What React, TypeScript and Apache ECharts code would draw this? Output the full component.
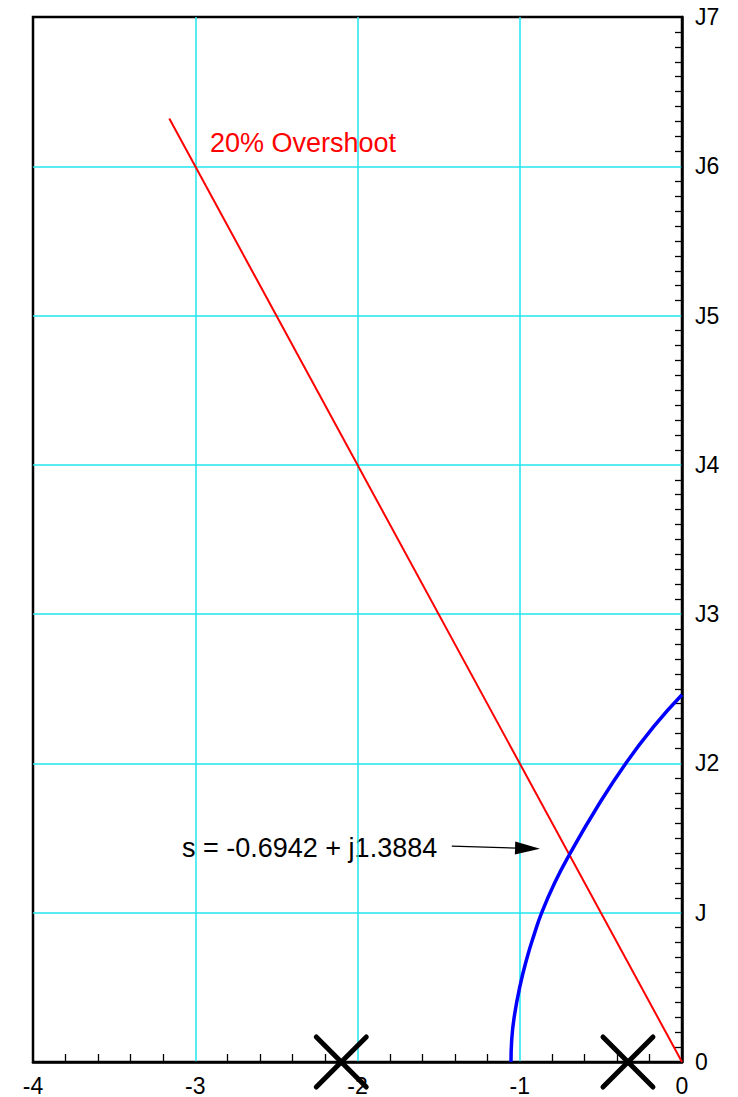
import React, { useEffect, useRef } from "react";
import * as echarts from "echarts";

// ---- data ----
const xTicks = [-4, -3, -2, -1, 0];
const yTickLabels = ["0", "J", "J2", "J3", "J4", "J5", "J6", "J7"];
// 20% overshoot damping line (from origin)
const overshootLine: [number, number][] = [
  [0, 0],
  [-3.16, 6.32],
];
// root locus branch
const locus: [number, number][] = [
  [-1.054, 0],
  [-1.0495, 0.15],
  [-1.0345, 0.3],
  [-1.0005, 0.5],
  [-0.9545, 0.7],
  [-0.9125, 0.85],
  [-0.8645, 1.0],
  [-0.7845, 1.2],
  [-0.6942, 1.3884],
  [-0.527, 1.7],
  [-0.347, 2.0],
  [-0.172, 2.25],
  [0, 2.46],
];
// open-loop poles
const poles: [number, number][] = [
  [-2.1, 0],
  [-0.333, 0],
];
// annotation arrow (start, end)
const arrowStart: [number, number] = [-1.419, 1.446];
const arrowEnd: [number, number] = [-0.952, 1.431];
const overshootText = "20% Overshoot";
const pointText = "s = -0.6942 + j1.3884";

const FONT = "'Liberation Sans', Arial, Helvetica, sans-serif";
const CYAN = "#1ee6ee";

export default function App() {
  const ref = useRef<HTMLDivElement>(null);
  useEffect(() => {
    document.body.style.margin = "0";
    const chart = echarts.init(ref.current!, null, { renderer: "svg" });
    chart.setOption({
      animation: false,
      backgroundColor: "#ffffff",
      grid: {
        left: 33,
        right: 56,
        top: 17,
        bottom: 32,
        show: true,
        borderColor: "#000",
        borderWidth: 2.5,
        backgroundColor: "#fff",
      },
      xAxis: {
        type: "value",
        min: -4,
        max: 0,
        interval: 1,
        position: "bottom",
        axisLine: { show: true, onZero: false, lineStyle: { color: "#000", width: 2.5 } },
        axisTick: { show: false, inside: true },
        minorTick: { show: true, splitNumber: 5, length: 8, lineStyle: { color: "#000", width: 1.3 } },
        splitLine: {
          show: true,
          showMinLine: false,
          showMaxLine: false,
          lineStyle: { color: CYAN, width: 1.5 },
        },
        minorSplitLine: { show: false },
        axisLabel: {
          color: "#000",
          fontSize: 23,
          fontFamily: FONT,
          margin: 12,
          formatter: (v: number) => (xTicks.includes(v) ? String(v) : ""),
        },
      },
      yAxis: {
        type: "value",
        min: 0,
        max: 7,
        interval: 1,
        position: "right",
        axisLine: { show: true, onZero: false, lineStyle: { color: "#000", width: 2.5 } },
        axisTick: { show: false, inside: true },
        minorTick: { show: true, splitNumber: 10, length: 7, lineStyle: { color: "#000", width: 1.3 } },
        splitLine: {
          show: true,
          showMinLine: false,
          showMaxLine: false,
          lineStyle: { color: CYAN, width: 1.5 },
        },
        axisLabel: {
          color: "#000",
          fontSize: 23,
          fontFamily: FONT,
          margin: 13,
          formatter: (v: number) => yTickLabels[Math.round(v)] ?? "",
        },
      },
      series: [
        {
          type: "line",
          data: overshootLine,
          symbol: "none",
          lineStyle: { color: "#ff0000", width: 2 },
          silent: true,
          markLine: {
            silent: true,
            symbol: ["none", "triangle"],
            symbolSize: [13, 25],
            label: { show: false },
            lineStyle: { color: "#000", width: 1.2, type: "solid" },
            data: [[{ coord: arrowStart }, { coord: arrowEnd }]],
          },
        },
        {
          type: "line",
          data: locus,
          symbol: "none",
          smooth: 0.5,
          lineStyle: { color: "#0000ff", width: 3.5 },
          silent: true,
        },
        {
          type: "scatter",
          data: poles,
          symbol: "path://M0 0L10 10M10 0L0 10",
          symbolSize: 50,
          clip: false,
          silent: true,
          itemStyle: {
            color: "#000",
            opacity: 1,
            borderColor: "#000",
            borderWidth: 5,
            borderCap: "round",
          },
        },
      ],
      graphic: [
        {
          type: "text",
          left: 210,
          top: 129,
          style: {
            text: overshootText,
            fill: "#ff0000",
            fontSize: 27,
            fontFamily: FONT,
          },
        },
        {
          type: "text",
          left: 182,
          top: 834,
          style: {
            text: pointText,
            fill: "#000",
            fontSize: 27,
            fontFamily: FONT,
          },
        },
      ],
    });
    return () => chart.dispose();
  }, []);
  return <div ref={ref} style={{ width: 738, height: 1097 }} />;
}
